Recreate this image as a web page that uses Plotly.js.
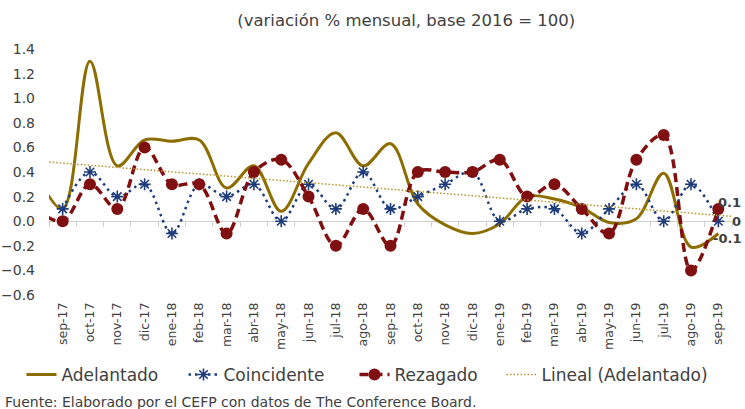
<!DOCTYPE html>
<html>
<head>
<meta charset="utf-8">
<script src="https://cdn.plot.ly/plotly-3.0.1.min.js"></script>
<style>html,body{margin:0;padding:0;background:#fff;}#chart{width:745px;height:409px;}</style>
</head>
<body>
<div id="chart"></div>
<script>
// Categories (ago-17 and oct-19 lie just outside the visible range)
var months = ['ago-17','sep-17','oct-17','nov-17','dic-17','ene-18','feb-18','mar-18','abr-18','may-18','jun-18','jul-18','ago-18','sep-18','oct-18','nov-18','dic-18','ene-19','feb-19','mar-19','abr-19','may-19','jun-19','jul-19','ago-19','sep-19','oct-19'];

var adelantado  = [0.4, 0.1, 1.3, 0.45, 0.66, 0.65, 0.66, 0.27, 0.45, 0.08, 0.47, 0.72, 0.45, 0.63, 0.14, -0.03, -0.1, -0.02, 0.2, 0.18, 0.11, -0.01, 0.02, 0.39, -0.21, -0.1, null];
var coincidente = [null, 0.1, 0.4, 0.2, 0.3, -0.1, 0.3, 0.2, 0.3, 0.0, 0.3, 0.1, 0.4, 0.1, 0.2, 0.3, 0.4, 0.0, 0.1, 0.1, -0.1, 0.1, 0.3, 0.0, 0.3, 0.0, null];
var rezagado    = [0.1, 0.0, 0.3, 0.1, 0.6, 0.3, 0.3, -0.1, 0.4, 0.5, 0.2, -0.2, 0.1, -0.2, 0.4, 0.4, 0.4, 0.5, 0.2, 0.3, 0.1, -0.1, 0.5, 0.7, -0.4, 0.1, null];

// Linear trend of Adelantado (end points)
var trendCats = ['ago-17', 'oct-19'];
var trendVals = [0.49, 0.03];

var seriesNames = ['Adelantado', 'Coincidente', 'Rezagado', 'Lineal (Adelantado)'];
var titleText = '(variación % mensual, base 2016 = 100)';
var sourceText = 'Fuente: Elaborado por el CEFP con datos de The Conference Board.';

var FONT = 'DejaVu Sans, sans-serif';
var TXT = '#404040';
var GOLD = '#8C6D00', NAVY = '#1F3C7A', RED = '#7F0F10', TREND = '#B8922A';
var AXIS = '#d0d0d0';

function lastIndex(arr){ for (var i = arr.length-1; i >= 0; i--) if (arr[i] !== null) return i; return -1; }

var traces = [
  // carrier for the zero axis line with its tick marks (invisible points)
  {x: months, y: months.map(function(){return 0;}), xaxis: 'x2', yaxis: 'y', type: 'scatter', mode: 'markers',
   marker: {size: 1, opacity: 0}, showlegend: false, hoverinfo: 'skip'},
  {x: months, y: adelantado, name: seriesNames[0], legend: 'legend', type: 'scatter', mode: 'lines',
   line: {color: GOLD, width: 3, shape: 'spline', smoothing: 1}},
  {x: months, y: coincidente, name: seriesNames[1], legend: 'legend2', type: 'scatter', mode: 'lines+markers',
   line: {color: NAVY, width: 2.5, dash: '2.5px,4px', shape: 'spline', smoothing: 1},
   marker: {symbol: 'asterisk-open', size: 10, color: NAVY, line: {color: NAVY, width: 1.6}}},
  {x: months, y: rezagado, name: seriesNames[2], legend: 'legend3', type: 'scatter', mode: 'lines+markers',
   line: {color: RED, width: 3.5, dash: '9px,5px', shape: 'spline', smoothing: 1},
   marker: {symbol: 'circle', size: 12, color: RED}},
  {x: trendCats, y: trendVals, name: seriesNames[3], legend: 'legend4', type: 'scatter', mode: 'lines',
   line: {color: TREND, width: 1.5, dash: '1.5px,2px'}}
];

// Data labels at the last point of each series
var labelSeries = [rezagado, coincidente, adelantado];
var labelShift = [6, 0, -5];
var annotations = labelSeries.map(function(s, k){
  var i = lastIndex(s);
  return {x: months[i], y: s[i], xref: 'x', yref: 'y', text: String(s[i]), showarrow: false,
          xanchor: 'right', yanchor: 'middle', xshift: 25, yshift: labelShift[k],
          font: {family: FONT, size: 13, color: TXT, weight: 'bold'}};
});
annotations.push({text: sourceText, xref: 'paper', yref: 'paper', x: -0.068, y: -0.435,
  xanchor: 'left', yanchor: 'middle', showarrow: false, font: {family: FONT, size: 14, color: TXT}});

function legendAt(px){
  return {orientation: 'h', x: (px - 49) / 683, xanchor: 'left', y: -0.325, yanchor: 'middle',
          font: {family: FONT, size: 17, color: TXT}, bgcolor: 'rgba(0,0,0,0)'};
}

var layout = {
  width: 745, height: 409,
  margin: {l: 49, r: 13, t: 49, b: 114, pad: 0},
  paper_bgcolor: '#ffffff', plot_bgcolor: '#ffffff',
  showlegend: true,
  title: {text: titleText, x: 0.523, xref: 'paper', xanchor: 'center', y: 0.951, yref: 'container', yanchor: 'middle',
          font: {family: FONT, size: 16.5, color: TXT}},
  xaxis: {type: 'category', categoryorder: 'array', categoryarray: months, range: [0.5, 25.5], tickangle: -90,
          showline: false, showgrid: false, zeroline: false,
          ticks: '', ticklabelstandoff: 4, tickfont: {family: FONT, size: 12.5, color: TXT}},
  xaxis2: {type: 'category', categoryorder: 'array', categoryarray: months, range: [0.5, 25.5],
           overlaying: 'x', anchor: 'free', position: 0.3, side: 'bottom', layer: 'below traces',
           showline: true, linecolor: AXIS, linewidth: 1.2, ticks: 'outside', tickson: 'boundaries',
           ticklen: 5, tickcolor: AXIS, tickwidth: 1, showticklabels: false, showgrid: false, zeroline: false},
  yaxis: {range: [-0.6, 1.4], dtick: 0.2, tick0: 0, tickformat: '.1f', showgrid: false,
          zeroline: true, zerolinecolor: AXIS, zerolinewidth: 1.2,
          showline: false, ticks: '', ticklabelstandoff: 13, tickfont: {family: FONT, size: 14, color: TXT}},
  legend: legendAt(21.5),
  legend2: legendAt(183.5),
  legend3: legendAt(354.5),
  legend4: legendAt(501.5),
  annotations: annotations
};

Plotly.newPlot('chart', traces, layout, {displayModeBar: false, staticPlot: true});
</script>
</body>
</html>
